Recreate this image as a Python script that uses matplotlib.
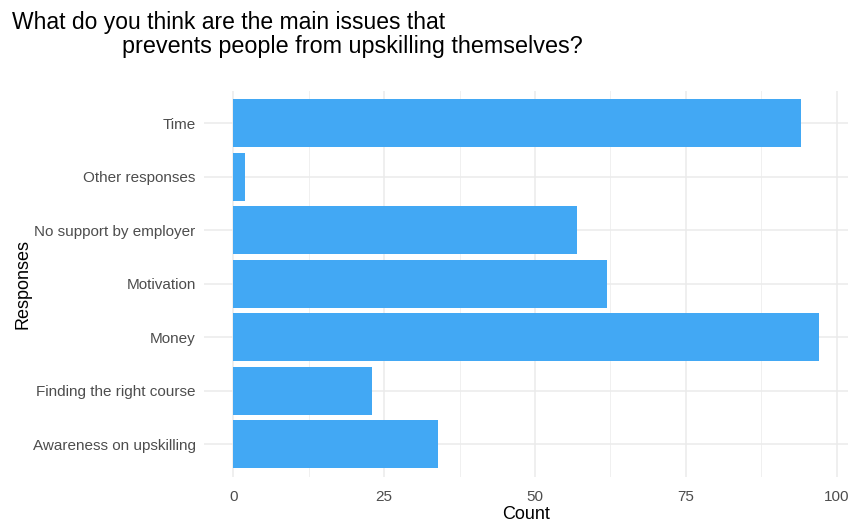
import matplotlib.pyplot as plt

plt.rcParams['font.family'] = ['Liberation Sans', 'DejaVu Sans']

responses = ['Awareness on upskilling', 'Finding the right course', 'Money',
             'Motivation', 'No support by employer', 'Other responses', 'Time']
counts = [34, 23, 97, 62, 57, 2, 94]
x_ticks = [0, 25, 50, 75, 100]

W, H = 853, 522
fig = plt.figure(figsize=(W / 100, H / 100), dpi=100)
ax = fig.add_axes([204 / W, 1 - 476.5 / H, (848 - 204) / W, (476.5 - 91) / H])

ax.barh(responses, counts, height=0.9, color='#42A8F4', zorder=2)

# ggplot-ish minimal theme
ax.set_xlim(-0.05 * max(counts), max(counts) * 1.05)
ax.set_ylim(-0.6, len(responses) - 0.4)
ax.set_xticks(x_ticks)
ax.set_xticks([12.5, 37.5, 62.5, 87.5], minor=True)
ax.grid(True, which='major', color='#EBEBEB', linewidth=1.1, zorder=0)
ax.grid(True, which='minor', axis='x', color='#F0F0F0', linewidth=0.7, zorder=0)
for s in ax.spines.values():
    s.set_visible(False)
ax.tick_params(which='both', length=0)
ax.tick_params(axis='y', labelsize=11, labelcolor='#4D4D4D', pad=6)
ax.tick_params(axis='x', labelsize=11, labelcolor='#4D4D4D', pad=10)

ax.set_xlabel('Count', fontsize=13, color='black', labelpad=1)
ax.set_ylabel('Responses', fontsize=13, color='black', labelpad=1)

fig.text(12 / W, 1 - 22 / H, 'What do you think are the main issues that',
         fontsize=16.5, va='center', ha='left')
fig.text(122 / W, 1 - 47 / H, 'prevents people from upskilling themselves?',
         fontsize=16.8, va='center', ha='left')

fig.savefig('out.png', dpi=100)
